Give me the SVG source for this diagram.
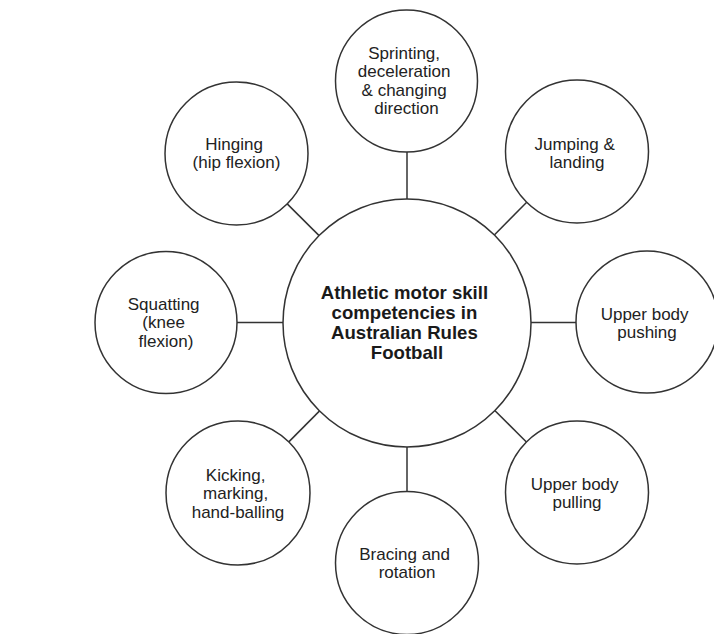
<svg xmlns="http://www.w3.org/2000/svg" width="714" height="634" viewBox="0 0 714 634">
  <style>
    .node { fill: #ffffff; stroke: #333333; stroke-width: 1.5; }
    .link { stroke: #333333; stroke-width: 1.5; fill: none; }
    .label { font-family: "Liberation Sans", Arial, sans-serif; font-size: 17px; fill: #222222; text-anchor: middle; }
    .hub { font-family: "Liberation Sans", Arial, sans-serif; font-size: 18.6px; font-weight: bold; fill: #1a1a1a; text-anchor: middle; }
  </style>
  <rect width="714" height="634" fill="#ffffff"/>

  <!-- spokes from the central hub to each competency -->
  <g id="connectors">
    <line class="link" x1="407" y1="152" x2="407" y2="199"/>
    <line class="link" x1="407" y1="447" x2="407" y2="492"/>
    <line class="link" x1="237" y1="322.5" x2="283" y2="322.5"/>
    <line class="link" x1="531" y1="322.5" x2="576" y2="322.5"/>
    <line class="link" x1="319.1" y1="235.6" x2="287.2" y2="203.9"/>
    <line class="link" x1="494.3" y1="235" x2="526.7" y2="202.3"/>
    <line class="link" x1="319.6" y1="410.9" x2="288.8" y2="441.9"/>
    <line class="link" x1="494.8" y1="410.5" x2="526.4" y2="442"/>
  </g>

  <g id="hub">
    <circle class="node" cx="407" cy="323" r="124"/>
    <text class="hub">
      <tspan x="407" y="298.8">Athletic motor skill</tspan>
      <tspan x="407" y="319">competencies in</tspan>
      <tspan x="407" y="339.2">Australian Rules</tspan>
      <tspan x="407" y="358.6">Football</tspan>
    </text>
  </g>

  <g id="sprinting">
    <circle class="node" cx="406.5" cy="81" r="71"/>
    <text class="label">
      <tspan x="406.5" y="58.5">Sprinting,</tspan>
      <tspan x="406.5" y="77">deceleration</tspan>
      <tspan x="406.5" y="95.5">&amp; changing</tspan>
      <tspan x="406.5" y="114">direction</tspan>
    </text>
  </g>

  <g id="jumping">
    <circle class="node" cx="577" cy="151.5" r="71.5"/>
    <text class="label">
      <tspan x="577" y="149.5">Jumping &amp;</tspan>
      <tspan x="577" y="167.5">landing</tspan>
    </text>
  </g>

  <g id="pushing">
    <circle class="node" cx="647" cy="322" r="71"/>
    <text class="label">
      <tspan x="647" y="319.5">Upper body</tspan>
      <tspan x="647" y="337.5">pushing</tspan>
    </text>
  </g>

  <g id="pulling">
    <circle class="node" cx="577" cy="492.5" r="71.5"/>
    <text class="label">
      <tspan x="577" y="490.4">Upper body</tspan>
      <tspan x="577" y="508.4">pulling</tspan>
    </text>
  </g>

  <g id="bracing">
    <circle class="node" cx="407" cy="563" r="71.5"/>
    <text class="label">
      <tspan x="407" y="560">Bracing and</tspan>
      <tspan x="407" y="578">rotation</tspan>
    </text>
  </g>

  <g id="kicking">
    <circle class="node" cx="238" cy="493" r="72"/>
    <text class="label">
      <tspan x="238" y="481">Kicking,</tspan>
      <tspan x="238" y="499.3">marking,</tspan>
      <tspan x="238" y="517.5">hand-balling</tspan>
    </text>
  </g>

  <g id="squatting">
    <circle class="node" cx="166" cy="322.5" r="71"/>
    <text class="label">
      <tspan x="166" y="310">Squatting</tspan>
      <tspan x="166" y="328.3">(knee</tspan>
      <tspan x="166" y="346.5">flexion)</tspan>
    </text>
  </g>

  <g id="hinging">
    <circle class="node" cx="236.5" cy="153.5" r="71.5"/>
    <text class="label">
      <tspan x="236.5" y="149.5">Hinging</tspan>
      <tspan x="236.5" y="167.5">(hip flexion)</tspan>
    </text>
  </g>
</svg>
